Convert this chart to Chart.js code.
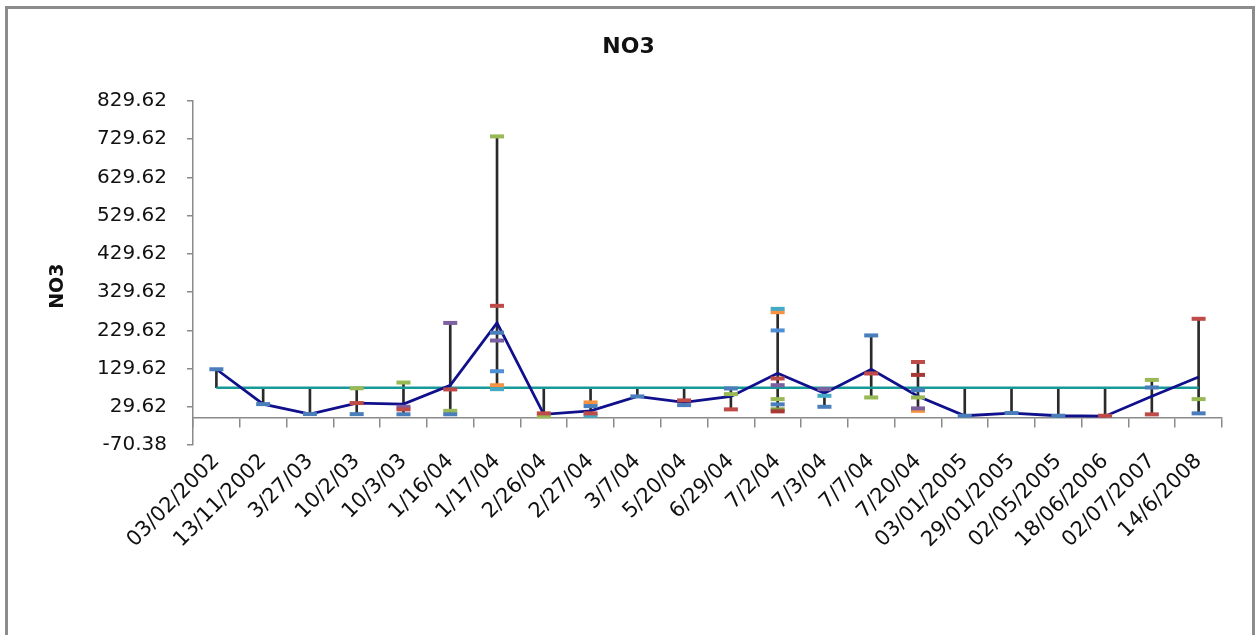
<!DOCTYPE html>
<html>
<head>
<meta charset="utf-8">
<script src="https://cdn.jsdelivr.net/npm/chart.js@4.4.0/dist/chart.umd.min.js"></script>
<style>
html, body { margin: 0; padding: 0; background: #fff; overflow: hidden; }
#frame { position: absolute; left: 5px; top: 6px; width: 1250px; height: 700px; border: 3px solid #8c8c8c; box-sizing: border-box; }
#graph { position: absolute; left: 0; top: 0; }
</style>
</head>
<body>
<div id="frame"></div>
<canvas id="graph" width="1257" height="635"></canvas>
<script>
const dates = ['03/02/2002', '13/11/2002', '3/27/03', '10/2/03', '10/3/03', '1/16/04', '1/17/04', '2/26/04',
    '2/27/04', '3/7/04', '5/20/04', '6/29/04', '7/2/04', '7/3/04', '7/7/04', '7/20/04',
    '03/01/2005', '29/01/2005', '02/05/2005', '18/06/2006', '02/07/2007', '14/6/2008']

const yTickValues = [-70.38, 29.62, 129.62, 229.62, 329.62, 429.62, 529.62, 629.62, 729.62, 829.62]

// mean per date (navy line)
const meanValues = [127.8, 36.6, 10.6, 39.3, 36.7, 86, 249, 9.8, 19, 56.7, 41,
    56.7, 117.4, 65, 127.8, 57, 6.2, 13.2, 6.2, 5, 57, 107.7]
// overall mean (teal line)
const overallValues = [79.62, 79.62, 79.62, 79.62, 79.62, 79.62, 79.62, 79.62, 79.62, 79.62, 79.62,
    79.62, 79.62, 79.62, 79.62, 79.62, 79.62, 79.62, 79.62, 79.62, 79.62, 79.62]

// individual samples
const blueValues = [127.8, 36.6, 10.6, 10.4, 10, 10, 223.4, null, 31.4, 56.7, 34,
    77.5, 35.9, 29.6, 216.3, 73, 6.2, 13.2, 6.2, null, 80.1, 12.4]
const redValues = [null, null, null, 39.3, 22.8, 75, 293.7, 12.4, 12.4, null, 46.3,
    22.8, 103.6, null, 116.6, 146.8, null, null, null, 6.2, 9.8, 259.8]
const greenValues = [null, null, null, 78, 93, 19, 737, 4.6, null, null, null,
    62.7, 49.7, null, 54, 54, null, null, null, null, 99.9, 49.7]
const purpleValues = [null, null, null, null, 29.6, 249, 203, null, null, null, null,
    null, 86.1, 75.7, null, 25.4, null, null, null, null, null, null]
const aquaValues = [null, null, null, null, null, null, 75.7, null, 6.2, null, null,
    null, 285.8, 58.3, null, null, null, null, null, null, null, null]
const orangeValues = [null, null, null, null, null, null, 86, null, 41, null, null,
    null, 277, null, null, 19, null, null, null, null, null, null]
const lightBlueValues = [null, null, null, null, null, null, 122.6, null, null, null, null,
    null, 229.4, null, null, null, null, null, null, null, null, null]
const darkRedValues = [null, null, null, null, null, null, null, null, null, null, null,
    null, 17.6, null, null, 113, null, null, null, null, null, null]
const oliveValues = [null, null, null, null, null, null, null, null, null, null, null,
    null, 22.8, null, null, null, null, null, null, null, null, null]

const sampleList = [blueValues, redValues, greenValues, purpleValues, aquaValues,
    orangeValues, lightBlueValues, darkRedValues, oliveValues]
const colorList = ['#4A7EBB', '#BE4B48', '#98B954', '#7D60A0', '#46AAC5',
    '#F69240', '#4F8FD6', '#A83A36', '#7F9A3F']

const font = 'DejaVu Sans'

function highLowData(){
    let result = []
    for(let i = 0; i < dates.length; i++){
        let values = [meanValues[i], overallValues[i]]
        sampleList.forEach(list => {
            if(list[i] !== null) values.push(list[i])
        })
        result.push([Math.min(...values), Math.max(...values)])
    }
    return result
}

function buildDatasets(){
    let dataset = []

    for(let i = 0; i < sampleList.length; i++){
        dataset.push({
            type: 'line',
            data: sampleList[i],
            showLine: false,
            pointStyle: 'line',
            pointRadius: 7,
            pointBorderWidth: 4,
            borderColor: colorList[i],
            backgroundColor: colorList[i],
            order: 1
        })
    }

    dataset.push({
        type: 'line',
        data: meanValues,
        borderColor: '#10108C',
        borderWidth: 2.8,
        pointRadius: 0,
        tension: 0,
        order: 2
    })

    dataset.push({
        type: 'line',
        data: overallValues,
        borderColor: '#17999A',
        borderWidth: 2.5,
        pointRadius: 0,
        order: 3
    })

    dataset.push({
        type: 'bar',
        data: highLowData(),
        backgroundColor: '#2a2a2a',
        barThickness: 2,
        order: 4
    })

    return dataset
}

const canvas = document.getElementById('graph')

window.chartNO3 = new Chart(canvas, {
    type: 'line',
    data: {
        labels: dates,
        datasets: buildDatasets()
    },
    options: {
        responsive: false,
        animation: false,
        devicePixelRatio: 1,
        layout: {
            padding: {top: 20, left: 35, right: 35, bottom: 190}
        },
        plugins: {
            legend: {display: false},
            tooltip: {enabled: false},
            title: {
                display: true,
                text: 'NO3',
                color: '#111',
                font: {family: font, size: 22, weight: 'bold'},
                padding: {top: 14, bottom: 40.6}
            }
        },
        scales: {
            x: {
                type: 'category',
                position: {y: 0},
                offset: true,
                grid: {
                    offset: true,
                    drawOnChartArea: false,
                    drawTicks: true,
                    tickLength: 9,
                    color: '#8a8a8a',
                    lineWidth: 1.5
                },
                border: {display: true, color: '#8a8a8a', width: 1.5},
                ticks: {
                    autoSkip: false,
                    minRotation: 45,
                    maxRotation: 45,
                    padding: 22,
                    color: '#111',
                    font: {family: font, size: 21}
                },
                afterFit: (scale) => { scale.height = 0 }
            },
            y: {
                min: -70.38,
                max: 829.62,
                grid: {
                    drawOnChartArea: false,
                    drawTicks: true,
                    tickLength: 6,
                    color: '#8a8a8a',
                    lineWidth: 1.5
                },
                border: {display: true, color: '#8a8a8a', width: 1.5},
                afterBuildTicks: (axis) => {
                    axis.ticks = yTickValues.map(v => ({value: v}))
                },
                ticks: {
                    padding: 20,
                    color: '#111',
                    font: {family: font, size: 20},
                    callback: (value) => Number(value).toFixed(2)
                },
                title: {
                    display: true,
                    text: 'NO3    ',
                    color: '#111',
                    font: {family: font, size: 19, weight: 'bold'},
                    padding: {top: 12, bottom: 0}
                },
                afterFit: (scale) => { scale.width = 158 }
            }
        }
    }
})
</script>
</body>
</html>
